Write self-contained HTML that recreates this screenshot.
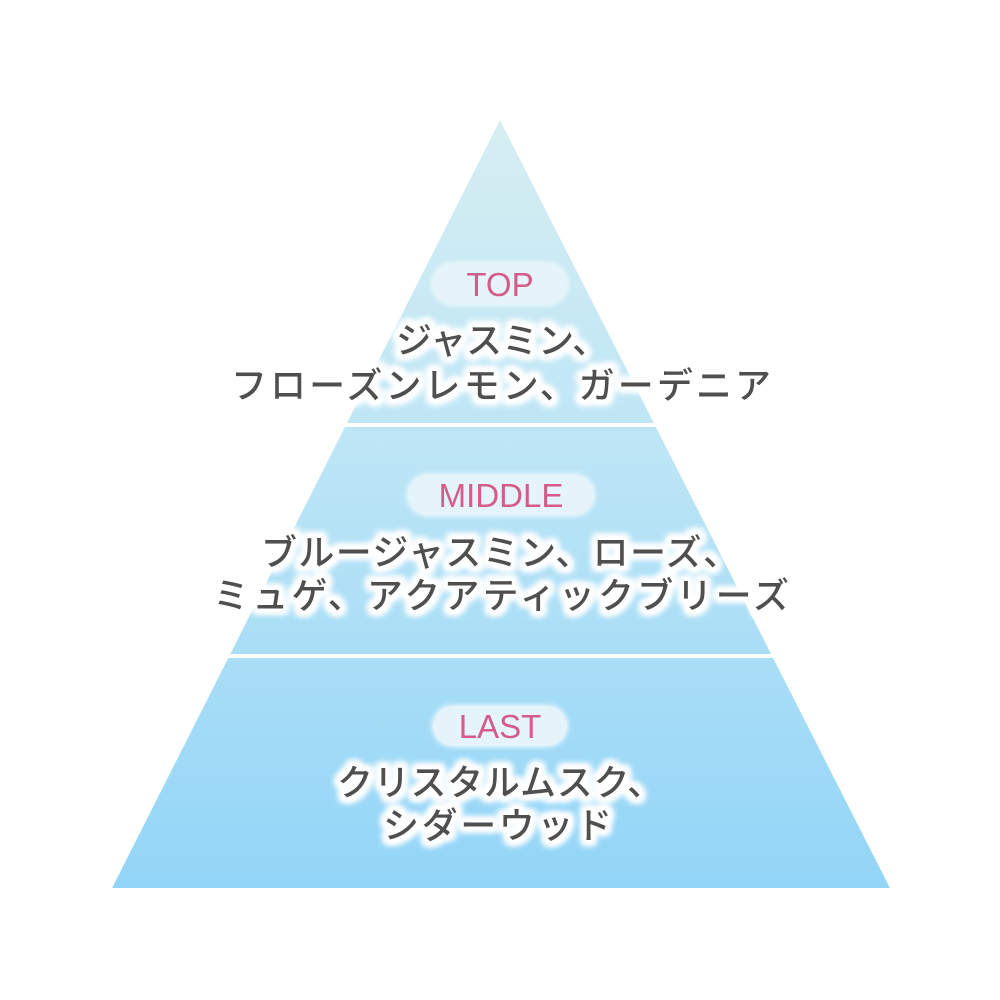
<!DOCTYPE html>
<html><head><meta charset="utf-8"><style>
html,body{margin:0;padding:0;background:#fff;width:1000px;height:1000px;overflow:hidden}
</style></head><body>
<svg width="1000" height="1000" viewBox="0 0 1000 1000" xmlns="http://www.w3.org/2000/svg">
<defs>
<linearGradient id="g" x1="0" y1="120" x2="0" y2="888" gradientUnits="userSpaceOnUse">
<stop offset="0" stop-color="#d6eef2"/>
<stop offset="0.4" stop-color="#bfe6f6"/>
<stop offset="1" stop-color="#93d5f7"/>
</linearGradient>
<filter id="glow" x="-20%" y="-50%" width="140%" height="200%">
<feMorphology in="SourceAlpha" operator="dilate" radius="4" result="d"/>
<feGaussianBlur in="d" stdDeviation="3.5" result="b"/>
<feFlood flood-color="#ffffff"/>
<feComposite in2="b" operator="in" result="w"/>
<feMerge><feMergeNode in="w"/><feMergeNode in="w"/><feMergeNode in="w"/><feMergeNode in="SourceGraphic"/></feMerge>
</filter>
<filter id="pg" x="-20%" y="-50%" width="140%" height="200%">
<feGaussianBlur stdDeviation="2"/>
</filter>
</defs>
<polygon points="500,120 890,888 112,888" fill="url(#g)"/>
<rect x="0" y="423" width="1000" height="4" fill="#fff"/>
<rect x="0" y="654" width="1000" height="4" fill="#fff"/>
<polygon points="500,120 890,888 1000,888 1000,0 0,0 0,888 112,888" fill="#fff"/>

<g filter="url(#pg)" fill="#ffffff" opacity="0.6">
<rect x="431" y="262" width="138" height="44" rx="22"/>
<rect x="406" y="473" width="190" height="44" rx="22"/>
<rect x="431" y="704" width="138" height="44" rx="22"/>
</g>
<g fill="#e4f4fa">
<rect x="433" y="264" width="134" height="40" rx="20"/>
<rect x="408" y="475" width="186" height="40" rx="20"/>
<rect x="433" y="706" width="134" height="40" rx="20"/>
</g>
<g font-family="Liberation Sans, sans-serif" font-size="33" fill="#d65a8a" text-anchor="middle">
<text x="500" y="296">TOP</text>
<text x="501" y="507">MIDDLE</text>
<text x="500" y="738">LAST</text>
</g>

<g font-family="'Noto Sans CJK JP', sans-serif" font-size="36" font-weight="500" fill="#4f4f4f" filter="url(#glow)" lengthAdjust="spacingAndGlyphs">
<text x="396" y="353" textLength="212">ジャスミン、</text>
<text x="231" y="398" textLength="540">フローズンレモン、ガーデニア</text>
<text x="261" y="565" textLength="478">ブルージャスミン、ローズ、</text>
<text x="213" y="608" textLength="576">ミュゲ、アクアティックブリーズ</text>
<text x="337" y="795" textLength="326">クリスタルムスク、</text>
<text x="383" y="838" textLength="229">シダーウッド</text>
</g>
</svg>
</body></html>
